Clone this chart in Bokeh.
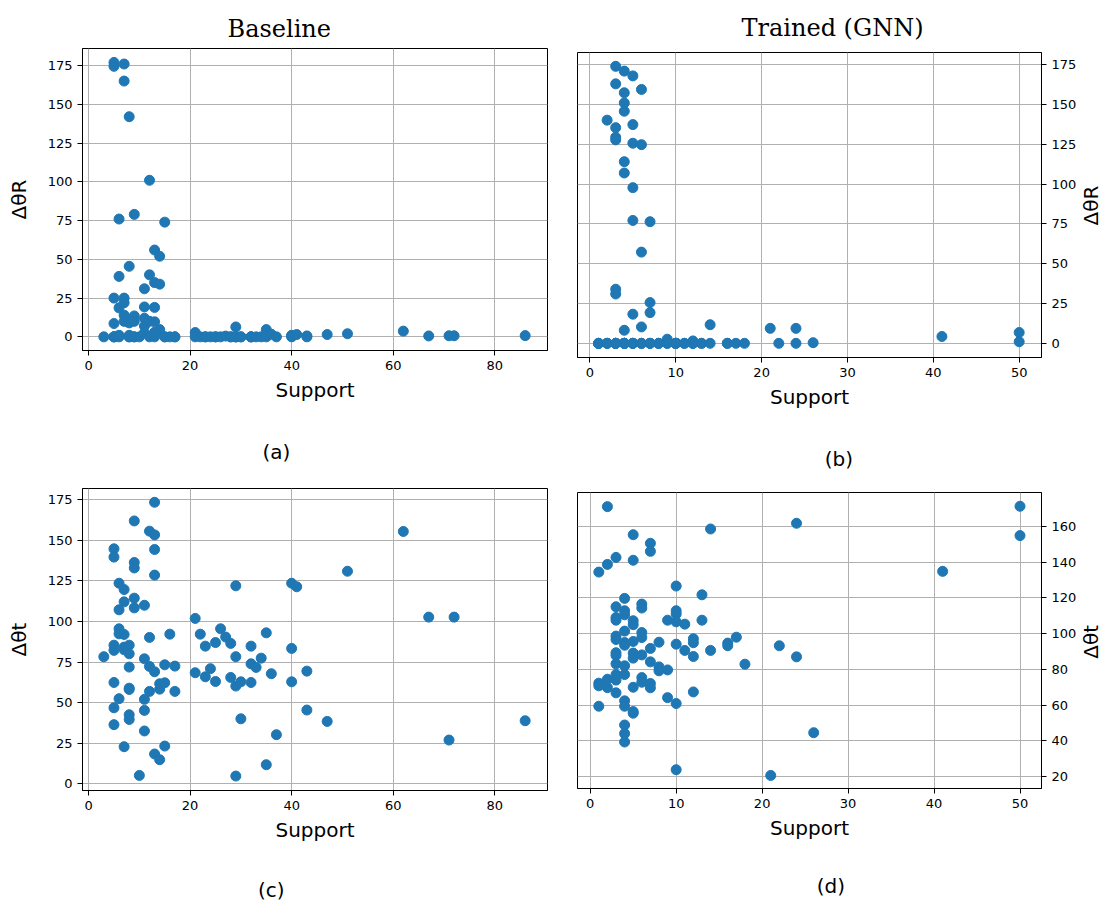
import math
from bokeh.plotting import figure
from bokeh.models import Range1d, FixedTicker, LinearAxis, ColumnDataSource
from bokeh.layouts import column, row
from bokeh.embed import file_html
from bokeh.resources import INLINE

# ---------------- data ----------------
base_support = [3,
                5, 5, 5, 5, 5, 5, 5,
                6, 6, 6, 6, 6,
                7, 7, 7, 7, 7, 7,
                8, 8, 8, 8, 8, 8, 8,
                9, 9, 9, 9, 9,
                10,
                11, 11, 11, 11, 11,
                12, 12, 12, 12,
                13, 13, 13, 13, 13, 13,
                14, 14, 14,
                15, 15, 15,
                16,
                17, 17,
                21, 21, 22, 23, 23, 24, 25, 25, 26, 27, 28, 28,
                29, 29, 29, 29, 30, 30, 32, 32, 32, 33, 34, 35, 35, 36, 37,
                40, 40, 40, 41, 43, 43, 47, 51, 62, 67, 71, 72, 86]
base_dR = [0,
           177, 174.5, 25, 8.6, 0, 0, 0,
           76, 39, 18.7, 1, 0,
           176, 165, 25, 22, 14, 10,
           142, 45.5, 10, 9, 1, 0, 0,
           79, 13.5, 10, 0, 0,
           0,
           31, 19.3, 12, 7, 2.6,
           101, 40, 10, 0,
           56, 35, 19, 9.7, 3, 0,
           52, 34, 4.7,
           74, 0, 0,
           0,
           0, 0,
           2.8, 0, 0, 0, 0, 0, 0, 0, 0, 0.5, 0, 0,
           6.4, 0, 0, 0, 0, 0, 0, 0, 0, 0, 0, 4.7, 0, 1.7, 0,
           1, 0.5, 0, 1.5, 0.6, 0, 1.5, 2, 3.7, 0.6, 0.7, 0.7, 0.8]
base_dt = [78.3,
           144.8, 139.7, 85.4, 82.2, 62.4, 46.8, 36.4,
           123.6, 107.2, 95.5, 92.4, 52.4,
           119.7, 112.1, 92, 84.2, 82.6, 22.8,
           85.4, 80.1, 71.9, 58.9, 58.1, 42.5, 39.6,
           162, 136.4, 133, 114.4, 108.4,
           5.1,
           110, 77, 52, 45.2, 32.5,
           155.7, 90.2, 72.3, 56.9,
           173.5, 153.4, 144.4, 128.6, 69, 18.3,
           61.6, 58.3, 14.8,
           73.3, 62.2, 23.2,
           92.2,
           72.5, 56.9,
           101.9, 68.4, 92.2, 84.8, 65.9, 70.9, 87, 63, 95.5, 90.4, 86.5, 65.5,
           122, 78.3, 60.2, 4.7, 62.8, 40, 84.8, 73.9, 62.4, 71.7, 77.4, 93, 11.7, 67.8, 30.2,
           123.6, 83.4, 62.8, 121.4, 69.4, 45.4, 38.4, 131, 155.5, 102.7, 26.9, 102.7, 38.8]

gnn_support = [1, 1, 1, 1,
               2, 2, 2, 2,
               3, 3, 3, 3, 3, 3, 3, 3, 3, 3, 3, 3,
               4, 4, 4, 4, 4, 4, 4, 4, 4, 4, 4, 4, 4,
               5, 5, 5, 5, 5, 5, 5, 5, 5, 5,
               6, 6, 6, 6, 6, 6, 6,
               7, 7, 7, 7, 7, 7,
               8, 8, 8,
               9, 9, 9,
               10, 10, 10, 10, 10, 10, 10,
               11, 11,
               12, 12, 12, 12,
               13, 13,
               14, 14,
               16, 16, 17, 18, 21, 22, 24, 24, 26, 41, 50, 50]
gnn_dR = [0, 0, 0, 0,
          140.2, 0, 0, 0,
          174, 163, 135.5, 129.5, 127.8, 34, 31, 0, 0, 0, 0, 0,
          171, 157.4, 151, 145.8, 114.1, 107, 8.2, 0, 0, 0, 0, 0, 0,
          168, 137.4, 125.7, 97.8, 77.2, 18.3, 0, 0, 0, 0,
          159.5, 124.8, 57.3, 10.3, 0, 0, 0,
          76.4, 25.6, 19.3, 0, 0, 0,
          0, 0, 0,
          2.6, 0, 0,
          0, 0, 0, 0, 0, 0, 0,
          0, 0,
          1.5, 0, 0, 0,
          0, 0,
          11.7, 0,
          0, 0, 0, 0, 9.4, 0, 9.4, 0, 0.4, 4.3, 6.8, 1]
gnn_dt = [134.4, 72.3, 70.8, 59.4,
          171, 138.7, 74.5, 69.8,
          142.6, 115, 109, 107.5, 98.6, 96.7, 89.3, 87.8, 83.1, 77.1, 74, 66.9,
          119.7, 112.8, 110.5, 101.4, 95, 93.5, 82, 77.1, 62.4, 59.4, 48.9, 44.1, 39.4,
          155.3, 141, 107.2, 105, 95.6, 89.1, 86.3, 70, 56.4, 55.5,
          116.5, 114.3, 100.6, 97.8, 88.1, 75.4, 72.8,
          150.5, 146, 91.7, 84.2, 72.1, 69.7,
          95.2, 81.4, 79.2,
          107.5, 79.7, 64.2,
          126.6, 112.8, 111, 106.6, 94.1, 60.9, 23.9,
          105.3, 90.6,
          97.1, 94.9, 87.2, 67.4,
          121.7, 107.5,
          158.5, 90.6,
          94.7, 93.2, 98, 82.9, 20.7, 93.2, 161.7, 87, 44.6, 134.8, 171.2, 154.8]

base_xticks = [0, 20, 40, 60, 80]
gnn_xticks = [0, 10, 20, 30, 40, 50]
dR_yticks = [0, 25, 50, 75, 100, 125, 150, 175]
gnn_dt_yticks = [20, 40, 60, 80, 100, 120, 140, 160]

titles = ["Baseline", "Trained (GNN)"]
sub_labels = ["(a)", "(b)", "(c)", "(d)"]
x_label = "Support"
y_labels = ["\u0394\u03b8R", "\u0394\u03b8t"]

BLUE = "#1f77b4"


def text_axis(pos, text, standoff, orientation="horizontal"):
    """A tick-less axis whose single tick label carries a piece of text."""
    return LinearAxis(ticker=FixedTicker(ticks=[pos]),
                      major_label_overrides={pos: text},
                      major_label_standoff=standoff,
                      major_label_orientation=orientation,
                      axis_line_color=None, major_tick_line_color=None,
                      minor_tick_line_color=None, major_tick_out=0,
                      major_tick_in=0, minor_tick_out=0, minor_tick_in=0,
                      major_label_text_font="DejaVu Sans",
                      major_label_text_font_size="20px",
                      major_label_text_color="black")


def panel(xs, ys, w, h, bl, br, bt, bb, xr, yr, xticks, yticks, ylabel,
          yloc, sub, sub_pos, sub_standoff, ylab_pos=None, ylab_standoff=9,
          title=None, title_offset=0, title_standoff=0):
    p = figure(width=w, height=h, output_backend="svg", toolbar_location=None,
               x_range=Range1d(*xr), y_range=Range1d(*yr),
               y_axis_location=yloc,
               min_border_left=bl, min_border_right=br,
               min_border_top=bt, min_border_bottom=bb)
    p.background_fill_color = "white"
    p.border_fill_color = "white"
    p.outline_line_color = "black"
    p.outline_line_width = 1
    src = ColumnDataSource(dict(x=xs, y=ys))
    p.scatter("x", "y", source=src, size=10, fill_color=BLUE, line_color=BLUE)

    p.xaxis.ticker = FixedTicker(ticks=xticks)
    p.yaxis.ticker = FixedTicker(ticks=yticks)
    p.xaxis.axis_label = x_label
    if yloc == "left":
        p.yaxis.axis_label = ylabel
    for ax in (p.xaxis, p.yaxis):
        ax.axis_label_text_font = "DejaVu Sans"
        ax.axis_label_text_font_size = "20px"
        ax.axis_label_text_font_style = "normal"
        ax.axis_label_text_color = "black"
        ax.major_label_text_font = "DejaVu Sans"
        ax.major_label_text_font_size = "13px"
        ax.major_label_text_color = "black"
        ax.major_tick_out = 5
        ax.major_tick_in = 0
        ax.minor_tick_out = 0
        ax.minor_tick_in = 0
        ax.axis_line_color = "black"
        ax.major_tick_line_color = "black"
    p.xaxis.axis_label_standoff = 5
    p.yaxis.axis_label_standoff = 14
    if yloc == "right":
        # right-hand y label, reading bottom-to-top like the reference
        p.add_layout(text_axis(ylab_pos, ylabel, ylab_standoff, math.pi / 2), "right")
    p.grid.grid_line_color = "#b0b0b0"
    p.grid.grid_line_width = 1

    if title is not None:
        p.title.text = title
        p.title.text_font = "DejaVu Serif"
        p.title.text_font_size = "24px"
        p.title.text_font_style = "normal"
        p.title.text_color = "black"
        p.title.align = "left"
        p.title.offset = title_offset
        p.title.vertical_align = "middle"
        p.title.standoff = title_standoff

    # panel letter below the axis
    p.add_layout(text_axis(sub_pos, sub, sub_standoff), "below")
    return p


pa = panel(base_support, base_dR, 560, 468, 82, 13, 48, 118,
           (-1.2, 90.4), (-8.8, 186), base_xticks, dR_yticks, y_labels[0],
           "left", sub_labels[0], 37, 35,
           title=titles[0], title_offset=145, title_standoff=10)
pc = panel(base_support, base_dt, 560, 436, 82, 13, 20, 114,
           (-1.2, 90.4), (-4.2, 182), base_xticks, dR_yticks, y_labels[1],
           "left", sub_labels[2], 36, 33)
pb = panel(gnn_support, gnn_dR, 558, 475, 17, 71, 52, 118,
           (-1.45, 52.6), (-8.9, 182.7), gnn_xticks, dR_yticks, y_labels[0],
           "right", sub_labels[1], 29, 35, ylab_pos=74, ylab_standoff=12,
           title=titles[1], title_offset=164, title_standoff=20)
pd = panel(gnn_support, gnn_dt, 558, 427, 17, 67, 17, 114,
           (-1.48, 52.5), (13.4, 178.9), gnn_xticks, gnn_dt_yticks, y_labels[1],
           "right", sub_labels[3], 28, 31, ylab_pos=86, ylab_standoff=12)

layout = row(column(pa, pc, spacing=0), column(pb, pd, spacing=0), spacing=0)

open("out.html", "w").write(file_html(layout, INLINE))
